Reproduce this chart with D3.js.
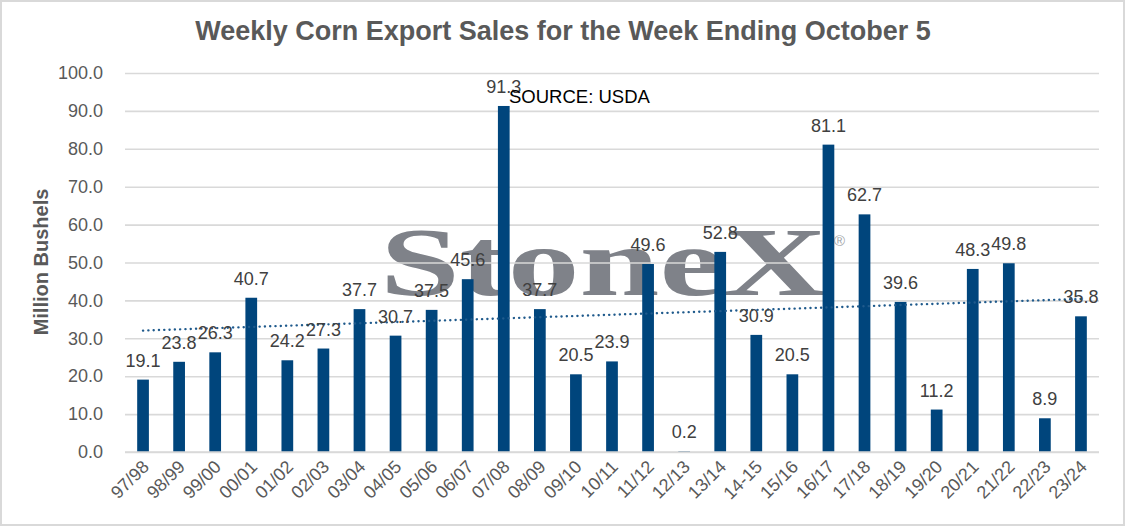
<!DOCTYPE html>
<html>
<head>
<meta charset="utf-8">
<script src="https://cdn.jsdelivr.net/npm/d3@7"></script>
<style>
  html, body { margin: 0; padding: 0; background: #fff; }
  svg { display: block; }
</style>
</head>
<body>
<svg id="chart" width="1126" height="527"></svg>
<script>
const categories = ["97/98","98/99","99/00","00/01","01/02","02/03","03/04","04/05","05/06","06/07","07/08","08/09","09/10","10/11","11/12","12/13","13/14","14-15","15/16","16/17","17/18","18/19","19/20","20/21","21/22","22/23","23/24"];
const sales = [19.1,23.8,26.3,40.7,24.2,27.3,37.7,30.7,37.5,45.6,91.3,37.7,20.5,23.9,49.6,0.2,52.8,30.9,20.5,81.1,62.7,39.6,11.2,48.3,49.8,8.9,35.8];
const yTicks = [0,10,20,30,40,50,60,70,80,90,100];
const titleText = "Weekly Corn Export Sales for the Week Ending October 5";
const yTitle = "Million Bushels";
const sourceText = "SOURCE: USDA";
const watermarkText = "StoneX";

const svg = d3.select("#chart");
const W = 1126, H = 527;
const m = {left: 125, right: 1099, top: 73, bottom: 452};

// outer border
svg.append("rect").attr("x", 1).attr("y", 1).attr("width", W - 3).attr("height", H - 3)
  .attr("fill", "#fff").attr("stroke", "#d9d9d9").attr("stroke-width", 2);

const x = d3.scaleBand().domain(categories).range([m.left, m.right]).paddingInner(0.675).paddingOuter(0.3375);
const y = d3.scaleLinear().domain([0, 100]).range([m.bottom, m.top]);

// watermark
svg.append("text")
  .attr("x", 380).attr("y", 295)
  .attr("textLength", 447).attr("lengthAdjust", "spacingAndGlyphs")
  .attr("font-family", "'Liberation Serif', 'DejaVu Serif', serif")
  .attr("font-weight", "bold")
  .attr("font-size", 98)
  .attr("fill", "#7f8289")
  .text(watermarkText);
svg.append("text")
  .attr("x", 834).attr("y", 246)
  .attr("font-family", "'Liberation Sans', Arial, sans-serif")
  .attr("font-size", 15)
  .attr("fill", "#a3a5a9")
  .text("®");

// gridlines
const yAxis = d3.axisLeft(y).tickValues(yTicks).tickSize(-(m.right - m.left)).tickFormat(d3.format(".1f")).tickPadding(22);
const gy = svg.append("g").attr("transform", `translate(${m.left},0)`).call(yAxis);
gy.select(".domain").remove();
gy.selectAll(".tick line").attr("stroke", "#d9d9d9").attr("stroke-width", 1.6);
gy.selectAll(".tick text")
  .attr("font-family", "'Liberation Sans', Arial, sans-serif")
  .attr("font-size", 18).attr("fill", "#595959");

// bars
svg.append("g").selectAll("rect").data(sales).join("rect")
  .attr("x", (d, i) => x(categories[i]))
  .attr("y", d => y(d))
  .attr("width", x.bandwidth())
  .attr("height", d => y(0) - y(d))
  .attr("fill", "#00457c");

// linear trendline
const n = sales.length;
const xs = d3.range(n);
const mx = d3.mean(xs), my = d3.mean(sales);
const slope = d3.sum(xs, i => (i - mx) * (sales[i] - my)) / d3.sum(xs, i => (i - mx) * (i - mx));
const icpt = my - slope * mx;
const cx = i => x(categories[i]) + x.bandwidth() / 2;
svg.append("line")
  .attr("x1", cx(0)).attr("y1", y(icpt))
  .attr("x2", cx(n - 1)).attr("y2", y(icpt + slope * (n - 1)))
  .attr("stroke", "#1f5a8c").attr("stroke-width", 2.4)
  .attr("stroke-linecap", "round").attr("stroke-dasharray", "0.1 5.2");

// x axis baseline
const xAxis = d3.axisBottom(x).tickSize(0).tickPadding(0);
const gx = svg.append("g").attr("transform", `translate(0,${m.bottom})`).call(xAxis);
gx.select(".domain").attr("stroke", "#d9d9d9").attr("stroke-width", 1.6)
  .attr("d", `M${m.left},0H${m.right}`);
gx.selectAll(".tick text")
  .attr("font-family", "'Liberation Sans', Arial, sans-serif")
  .attr("font-size", 18).attr("fill", "#595959")
  .attr("text-anchor", "end")
  .attr("dy", null).attr("y", null)
  .attr("transform", "translate(7,16) rotate(-45)");

// data labels
svg.append("g").selectAll("text").data(sales).join("text")
  .attr("x", (d, i) => cx(i))
  .attr("y", d => y(d) - 13)
  .attr("text-anchor", "middle")
  .attr("font-family", "'Liberation Sans', Arial, sans-serif")
  .attr("font-size", 18).attr("fill", "#404040")
  .text(d => d3.format(".1f")(d));

// source
svg.append("text").attr("x", 509).attr("y", 103)
  .attr("font-family", "'Liberation Sans', Arial, sans-serif")
  .attr("font-size", 18.5).attr("fill", "#000")
  .text(sourceText);

// title
svg.append("text").attr("x", 563).attr("y", 40)
  .attr("text-anchor", "middle")
  .attr("font-family", "'Liberation Sans', Arial, sans-serif")
  .attr("font-weight", "bold").attr("font-size", 27).attr("fill", "#595959")
  .text(titleText);

// y title
svg.append("text")
  .attr("transform", "translate(48,262) rotate(-90)")
  .attr("text-anchor", "middle")
  .attr("font-family", "'Liberation Sans', Arial, sans-serif")
  .attr("font-weight", "bold").attr("font-size", 20).attr("fill", "#595959")
  .text(yTitle);
</script>
</body>
</html>
